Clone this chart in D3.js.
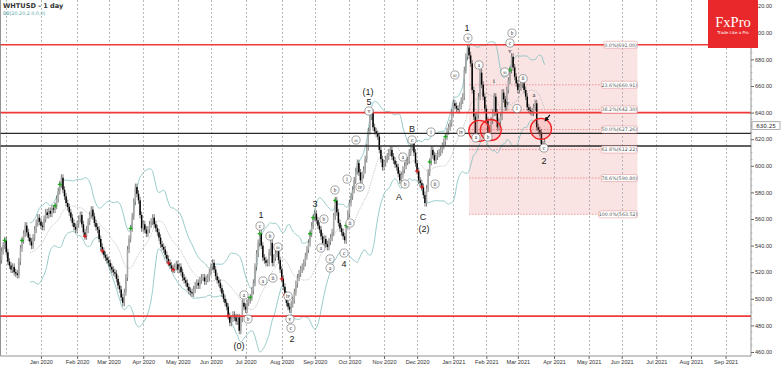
<!DOCTYPE html>
<html>
<head>
<meta charset="utf-8">
<script src="https://cdn.jsdelivr.net/npm/d3@7"></script>
<style>
body { margin: 0; background: #fff; }
svg { display: block; font-family: "DejaVu Sans", sans-serif; }
</style>
</head>
<body>
<svg id="chart" width="782" height="366"></svg>
<script>
"use strict";

const symbolTitle = "WHTUSD - 1 day";
const indicatorTitle = "BB(20,20,2.0,0,0)";
const firstDay = "2019-11-26";

// daily closes, one per weekday from firstDay
const closes = [
	529,536,540,544,535,528,525,522,524,520,
	519,518,528,538,544,549,555,550,546,543,
	540,546,552,557,561,558,555,554,560,565,
	563,566,564,568,567,570,575,581,586,591,
	582,577,572,569,565,561,557,554,552,556,
	560,563,556,550,547,552,558,563,567,562,
	557,554,552,545,539,536,533,531,529,527,
	524,522,520,519,515,510,507,501,497,505,
	516,537,545,553,562,573,584,579,574,563,
	553,556,552,549,552,556,558,561,556,553,
	550,546,541,539,537,533,530,527,525,523,
	522,524,526,522,524,520,516,514,512,509,
	506,505,504,507,510,512,510,514,516,516,
	513,515,516,520,524,527,522,517,514,512,
	508,504,500,497,494,487,482,485,488,486,
	483,486,476,485,497,494,492,497,499,501,
	506,512,524,534,542,549,540,531,529,527,
	527,535,542,527,531,534,537,529,522,515,
	509,503,497,494,492,496,499,505,511,516,
	519,522,524,527,532,537,542,549,555,561,
	564,559,555,552,547,542,545,541,539,543,
	546,550,562,574,565,557,553,550,547,544,
	555,564,572,577,582,589,596,602,595,589,
	593,597,605,614,626,637,640,629,626,624,
	622,612,605,599,602,605,607,610,612,607,
	604,601,599,594,589,593,597,600,603,604,
	610,614,619,610,602,596,589,587,584,578,
	572,583,595,603,612,608,604,607,609,610,
	612,615,618,622,626,629,632,640,647,645,
	643,642,645,649,652,672,682,689,683,677,
	657,637,622,638,652,670,661,652,643,634,
	622,628,634,640,652,640,629,633,637,655,
	650,644,657,664,672,682,674,667,662,657,
	659,661,662,657,652,644,642,641,640,644,
	647,629,627,625,616,613,618
];

const priceTicks = [460,480,500,520,540,560,580,600,620,640,660,680,700,720];
const redLevels = [691, 640, 487];
const blackLevels = [624.4, 614.9];
const lastPrice = 630.25;

const fibPercents = [0, 23.6, 38.2, 50, 61.8, 78.6, 100];
const fibHigh = 691.00;
const fibLow = 563.52;
const fibFrom = 298;   // bar index where the box starts
const fibTo = 405;

const greenSignals = [3, 14, 35, 38, 83, 159, 165, 197, 199, 213, 220, 273, 283, 324];
const redSignals = [54, 65, 107, 110, 145, 179, 181, 265, 268];

// [bar index, price, text, kind]  kind: c = circled, p = plain, s = small plain
const waveLabels = [
	[151.8, 464.5, "(0)", "p"],
	[155, 502.9, "a", "c"],
	[157.6, 484.8, "b", "c"],
	[165.8, 562.8, "1", "p"],
	[165.2, 554.7, "c", "c"],
	[171.5, 547.2, "b", "c"],
	[167.1, 513.4, "a", "c"],
	[176.6, 538.9, "iii", "c"],
	[173.4, 515.6, "ii", "c"],
	[183, 502, "iv", "c"],
	[184.2, 484.8, "v", "c"],
	[184.9, 478, "c", "c"],
	[185.5, 470.0, "2", "p"],
	[200.1, 571.5, "3", "p"],
	[205.8, 560, "b", "c"],
	[203.9, 538.2, "a", "c"],
	[209.7, 530, "c", "c"],
	[209.7, 523.2, "a", "c"],
	[212.8, 581.8, "b", "c"],
	[218.6, 534.4, "c", "c"],
	[218.6, 526.0, "4", "p"],
	[220.5, 590, "i", "c"],
	[222.4, 557, "ii", "c"],
	[226.2, 619.4, "iii", "c"],
	[228.7, 584, "iv", "c"],
	[233.8, 655.8, "(1)", "p"],
	[234.4, 648.2, "5", "p"],
	[234.4, 641.2, "v", "c"],
	[256, 606.6, "a", "c"],
	[257.3, 586.3, "b", "c"],
	[253.5, 576.5, "A", "p"],
	[261.8, 628, "B", "p"],
	[261.8, 619.4, "c", "c"],
	[268.7, 561.5, "C", "p"],
	[269.4, 553.0, "(2)", "p"],
	[273.8, 625.4, "i", "c"],
	[276.4, 586.3, "ii", "c"],
	[289, 668.3, "iii", "c"],
	[292.9, 625.4, "iv", "c"],
	[296.7, 703.8, "1", "p"],
	[297.3, 696.1, "v", "c"],
	[304.3, 675.8, "a", "c"],
	[302.4, 621, "a", "c"],
	[310, 621.7, "b", "c"],
	[313.8, 663.5, "i", "s"],
	[320.8, 670.5, "iii", "c"],
	[322, 647.5, "iv", "s"],
	[325.3, 699.8, "b", "c"],
	[324, 692.3, "c", "c"],
	[324, 686.0, "v", "s"],
	[332.3, 665.5, "ii", "c"],
	[328.5, 643, "i", "c"],
	[339.3, 653.5, "a", "s"],
	[345.6, 613.4, "c", "c"],
	[345.6, 603.6, "2", "p"]
];

const redCircles = [[304.5, 626.2], [311.8, 626.9], [343.7, 627.7]];
const arrow = [[349.4, 638.2], [346.3, 633.7]];

const svg = d3.select("#chart");
const plotRight = 751;
const plotBottom = 356;

const parseDay = d3.utcParse("%Y-%m-%d");
const start = parseDay(firstDay);
const weekdayIndex = (date) => d3.utcDays(start, date).filter((d) => d.getUTCDay() % 6 !== 0).length;

const x = d3.scaleLinear().domain([0, 476]).range([0, 749.2]);
const y = d3.scaleLinear().domain([460, 720]).range([352, 6.2]);

// fibonacci box and dotted levels
const fibRows = fibPercents.map((p) => ({ p, v: fibHigh - (fibHigh - fibLow) * p / 100 }));
fibRows.forEach((r) => {
	r.txt = `${r.p.toFixed(1)}%(${r.v.toFixed(2)})`;
	r.tw = r.txt.length * 2.55 + 3;
});
const labelRight = x(fibTo);
const gFib = svg.append("g");
gFib.append("rect")
	.attr("x", x(fibFrom)).attr("y", y(fibHigh))
	.attr("width", x(fibTo) - x(fibFrom))
	.attr("height", y(fibLow) - y(fibHigh))
	.attr("fill", "#f7d9d9").attr("opacity", 0.75);
gFib.selectAll("line").data(fibRows).join("line")
	.attr("x1", x(fibFrom)).attr("x2", (r) => labelRight - r.tw)
	.attr("y1", (r) => y(r.v)).attr("y2", (r) => y(r.v))
	.attr("stroke", "#e06060").attr("stroke-width", 0.6).attr("stroke-dasharray", "1.5,1.5");

// month grid + x axis
const months = d3.utcMonths(parseDay("2019-12-01"), parseDay("2021-10-01"));
const monthIdx = months.map(weekdayIndex);
svg.append("g").selectAll("line").data(monthIdx).join("line")
	.attr("x1", (d) => Math.round(x(d)) + 0.5).attr("x2", (d) => Math.round(x(d)) + 0.5)
	.attr("y1", 0).attr("y2", plotBottom)
	.attr("stroke", "#9a9a9a").attr("stroke-width", 0.7).attr("stroke-dasharray", "2,2");

const fmtMonth = d3.utcFormat("%b %Y");
const xAxis = svg.append("g").attr("transform", `translate(0,${plotBottom})`)
	.call(d3.axisBottom(x).tickValues(monthIdx.slice(1)).tickSize(3).tickPadding(1)
		.tickFormat((d, i) => fmtMonth(months[i + 1])));
xAxis.select(".domain").remove();
xAxis.selectAll("line").attr("stroke", "#666");
xAxis.selectAll("text").attr("font-size", 5.6).attr("fill", "#333");

// bollinger bands from the closes
const bands = [];
closes.forEach((c, i) => {
	if(i < 19) return;
	const win = closes.slice(i - 19, i + 1);
	const m = d3.mean(win);
	const sd = Math.sqrt(d3.mean(win, (v) => (v - m) * (v - m)));
	bands.push({ i, m, up: m + 2 * sd, lo: m - 2 * sd });
});
const bandLine = (key) => d3.line().x((d) => x(d.i)).y((d) => y(d[key])).curve(d3.curveMonotoneX);
const gBands = svg.append("g").attr("fill", "none");
gBands.append("path").datum(bands).attr("d", bandLine("up")).attr("stroke", "#8cc4c4").attr("stroke-width", 0.9);
gBands.append("path").datum(bands).attr("d", bandLine("lo")).attr("stroke", "#8cc4c4").attr("stroke-width", 0.9);
gBands.append("path").datum(bands).attr("d", bandLine("m")).attr("stroke", "#aaa").attr("stroke-width", 0.6).attr("stroke-dasharray", "1.5,1");

// candles
const candles = closes.map((c, i) => ({ i, o: i ? closes[i - 1] : c, c }));
const gCandles = svg.append("g");
gCandles.selectAll("line").data(candles).join("line")
	.attr("x1", (d) => x(d.i)).attr("x2", (d) => x(d.i))
	.attr("y1", (d) => y(Math.max(d.o, d.c)) - 3.5)
	.attr("y2", (d) => y(Math.min(d.o, d.c)) + 3.5)
	.attr("stroke", "#444").attr("stroke-width", 0.7);
gCandles.selectAll("rect").data(candles).join("rect")
	.attr("x", (d) => x(d.i) - 0.75).attr("width", 1.5)
	.attr("y", (d) => y(Math.max(d.o, d.c)))
	.attr("height", (d) => Math.max(1, Math.abs(y(d.o) - y(d.c))))
	.attr("fill", (d) => d.c < d.o ? "#000" : "#a8a8a8");

// signal crosses
const cross = (g, idx, color) => {
	g.selectAll("path").data(idx).join("path")
		.attr("d", (i) => {
			const cx = x(i), cy = y(closes[i]);
			return `M${cx - 2},${cy}H${cx + 2}M${cx},${cy - 2}V${cy + 2}`;
		})
		.attr("stroke", color).attr("stroke-width", 1.2);
};
cross(svg.append("g"), greenSignals, "#1fa81f");
cross(svg.append("g"), redSignals, "#d42020");

// horizontal levels
const gLevels = svg.append("g");
gLevels.selectAll("line.red").data(redLevels).join("line").attr("class", "red")
	.attr("x1", 0).attr("x2", plotRight)
	.attr("y1", (d) => y(d)).attr("y2", (d) => y(d))
	.attr("stroke", "#f03a3a").attr("stroke-width", 1.6);
gLevels.selectAll("line.black").data(blackLevels).join("line").attr("class", "black")
	.attr("x1", 0).attr("x2", plotRight)
	.attr("y1", (d) => y(d)).attr("y2", (d) => y(d))
	.attr("stroke", "#2a2a2a").attr("stroke-width", 1.3);

// fibonacci labels on top of the levels
const gFibLab = svg.append("g");
fibRows.forEach((r) => {
	const yy = y(r.v);
	gFibLab.append("rect")
		.attr("x", labelRight - r.tw).attr("y", yy - 3.5).attr("width", r.tw).attr("height", 7)
		.attr("rx", 1.5).attr("fill", "#fff").attr("stroke", "#e49a9a").attr("stroke-width", 0.6);
	gFibLab.append("text")
		.attr("x", labelRight - r.tw / 2).attr("y", yy + 1.8)
		.attr("text-anchor", "middle").attr("font-size", 4.8).attr("fill", "#555").text(r.txt);
});

// red circles
svg.append("g").selectAll("circle").data(redCircles).join("circle")
	.attr("cx", (d) => x(d[0])).attr("cy", (d) => y(d[1])).attr("r", 10.5)
	.attr("fill", "rgba(255,90,90,0.18)").attr("stroke", "#f02020").attr("stroke-width", 1.3);

// small black arrow
svg.append("defs").append("marker").attr("id", "ah")
	.attr("viewBox", "0 0 6 6").attr("refX", 5).attr("refY", 3)
	.attr("markerWidth", 4).attr("markerHeight", 4).attr("orient", "auto")
	.append("path").attr("d", "M0,0L6,3L0,6Z").attr("fill", "#111");
svg.append("path")
	.attr("d", d3.line().x((d) => x(d[0])).y((d) => y(d[1]))(arrow))
	.attr("stroke", "#111").attr("stroke-width", 1.2).attr("marker-end", "url(#ah)");

// wave labels
const gWave = svg.append("g");
waveLabels.forEach(([i, p, t, kind]) => {
	const cx = x(i), cy = y(p);
	if(kind === "c") {
		gWave.append("circle").attr("cx", cx).attr("cy", cy).attr("r", 4.1)
			.attr("fill", "#fff").attr("stroke", "#666").attr("stroke-width", 0.6);
		gWave.append("text").attr("x", cx).attr("y", cy + 1.6)
			.attr("text-anchor", "middle").attr("font-family", "Liberation Serif, serif")
			.attr("font-size", t.length > 2 ? 4.2 : 5.2).attr("fill", "#222").text(t);
	} else if(kind === "s") {
		gWave.append("text").attr("x", cx).attr("y", cy + 2)
			.attr("text-anchor", "middle").attr("font-family", "Liberation Serif, serif")
			.attr("font-size", 6.5).attr("fill", "#222").text(t);
	} else {
		gWave.append("text").attr("x", cx).attr("y", cy + 3.2)
			.attr("text-anchor", "middle").attr("font-family", "Liberation Sans, Arial, sans-serif")
			.attr("font-size", 9).attr("fill", "#222").text(t);
	}
});

// frame and price axis
svg.append("path")
	.attr("d", `M0.5,0V${plotBottom}H${plotRight}V0`)
	.attr("fill", "none").attr("stroke", "#777").attr("stroke-width", 0.8);
const yAxis = svg.append("g").attr("transform", `translate(${plotRight},0)`)
	.call(d3.axisRight(y).tickValues(priceTicks).tickSize(3).tickPadding(1).tickFormat(d3.format(".2f")));
yAxis.select(".domain").remove();
yAxis.selectAll("line").attr("stroke", "#666");
yAxis.selectAll("text").attr("font-size", 5.6).attr("fill", "#333");
const minorTicks = d3.range(465, 720, 5).filter((v) => v % 20 !== 0);
svg.append("g").selectAll("line").data(minorTicks).join("line")
	.attr("x1", plotRight).attr("x2", plotRight + 1.5)
	.attr("y1", (d) => y(d)).attr("y2", (d) => y(d))
	.attr("stroke", "#888").attr("stroke-width", 0.5);

// last price tag
const tag = svg.append("g").attr("transform", `translate(${plotRight + 1},${y(lastPrice)})`);
tag.append("rect").attr("x", 0).attr("y", -3.8).attr("width", 28).attr("height", 7.6)
	.attr("fill", "#fff").attr("stroke", "#777").attr("stroke-width", 0.6);
tag.append("text").attr("x", 14).attr("y", 2).attr("text-anchor", "middle")
	.attr("font-size", 5.6).attr("fill", "#222").text(lastPrice.toFixed(2));

// header
svg.append("text").attr("x", 3).attr("y", 8).attr("font-size", 6.6).attr("font-weight", "bold")
	.attr("fill", "#333").text(symbolTitle);
svg.append("text").attr("x", 3).attr("y", 15).attr("font-size", 4.8)
	.attr("fill", "#5aa6a6").text(indicatorTitle);

// logo
const logo = svg.append("g");
logo.append("rect").attr("x", 708).attr("y", 0).attr("width", 50).attr("height", 48).attr("fill", "#e8282a");
logo.append("text").attr("x", 733).attr("y", 27).attr("text-anchor", "middle")
	.attr("font-family", "Liberation Serif, serif").attr("font-size", 14.5).attr("fill", "#fff").text("FxPro");
logo.append("text").attr("x", 733).attr("y", 34).attr("text-anchor", "middle")
	.attr("font-size", 4).attr("fill", "#fff").text("Trade Like a Pro");
</script>
</body>
</html>
